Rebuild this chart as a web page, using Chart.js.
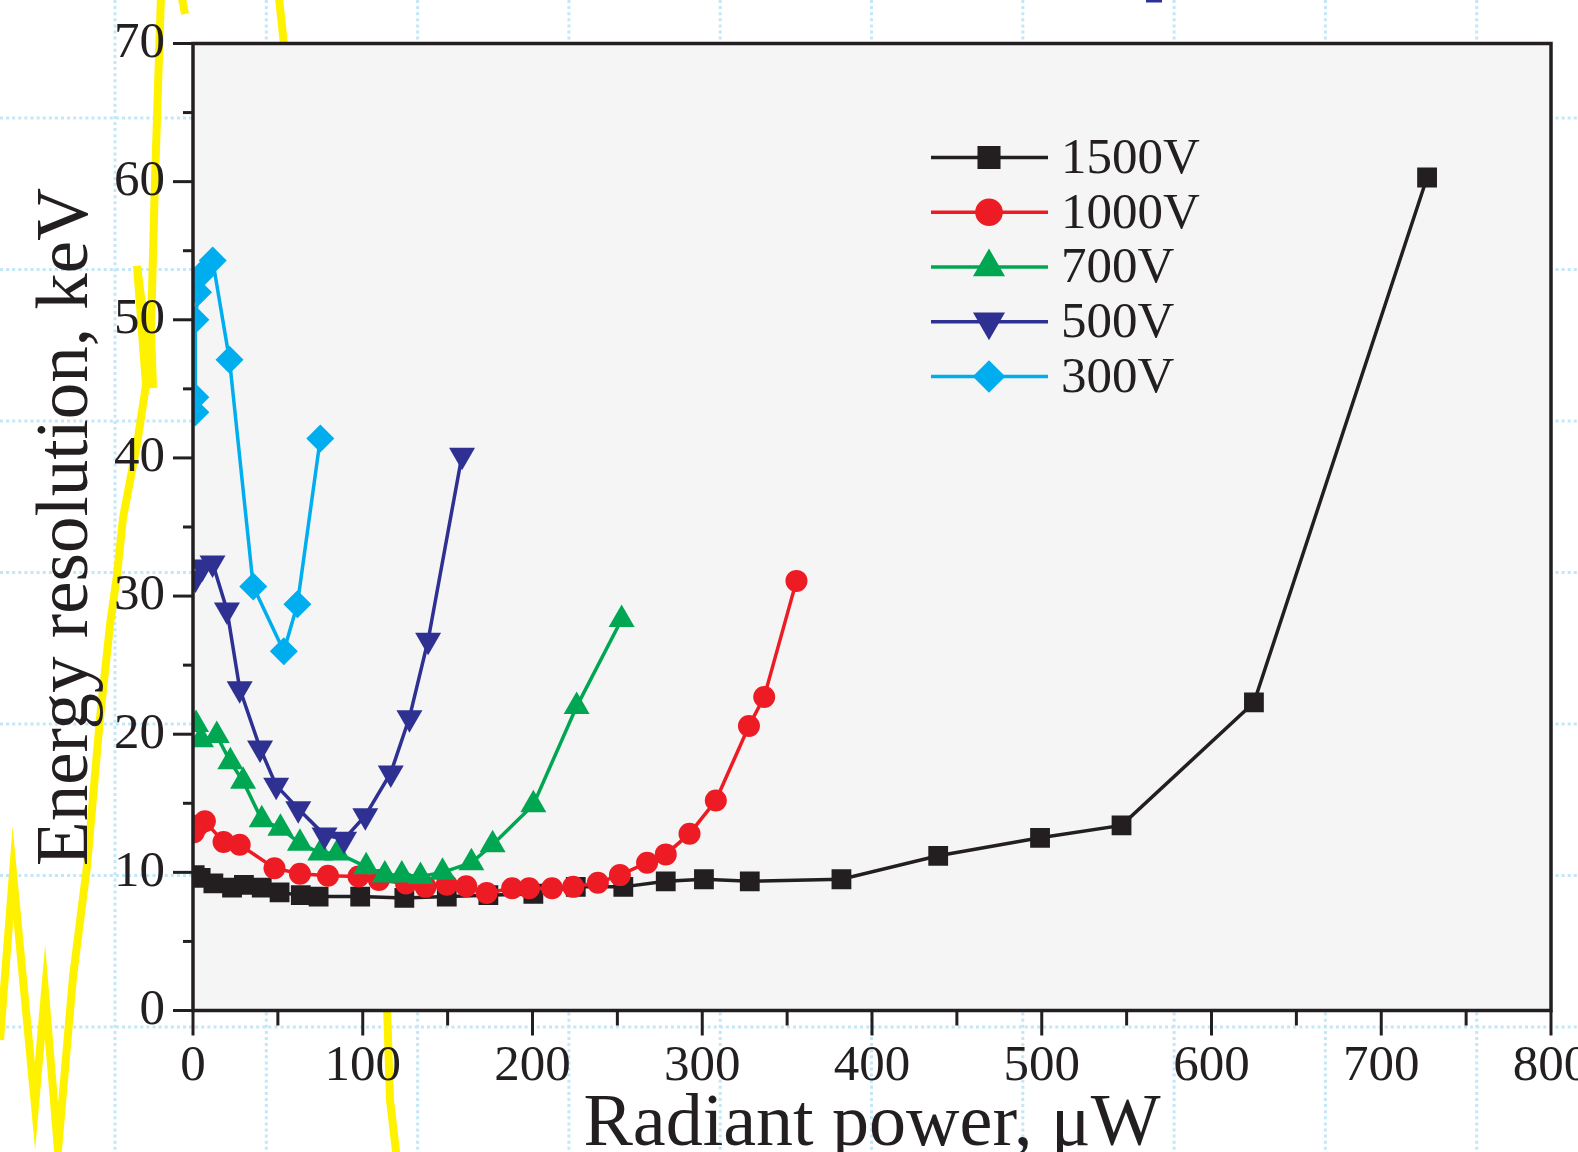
<!DOCTYPE html>
<html>
<head>
<meta charset="utf-8">
<script src="https://cdn.jsdelivr.net/npm/chart.js@4.4.0/dist/chart.umd.min.js"></script>
<style>
  html, body { margin: 0; padding: 0; background: #ffffff; }
  #wrap { width: 1578px; height: 1152px; position: relative; overflow: hidden; }
  canvas { display: block; }
</style>
</head>
<body>
<div id="wrap"><canvas id="c" width="1578" height="1152"></canvas></div>
<script>
// ---------------- data ----------------
const seriesNames = ['1500V', '1000V', '700V', '500V', '300V'];

const power1500 = [1, 4.5, 12, 23, 30, 40.5, 51, 63.5, 74, 98.5, 124.5, 149.5, 174, 200.5, 225.5, 253.5, 278.5, 301, 328, 382, 439, 499, 547, 625, 727];
const res1500   = [9.8, 9.6, 9.2, 8.9, 9.1, 8.9, 8.55, 8.35, 8.25, 8.25, 8.15, 8.25, 8.35, 8.45, 8.95, 8.95, 9.35, 9.5, 9.35, 9.5, 11.2, 12.5, 13.4, 22.3, 60.3];

const power1000 = [0.5, 3, 7, 18, 27.5, 48, 63, 79.5, 97.5, 109.5, 125.5, 137, 149.5, 161, 173, 188, 198, 211.5, 224, 238.5, 251.5, 267.5, 278.5, 292.5, 308, 327.5, 336.5, 355.5];
const res1000   = [12.9, 13.4, 13.7, 12.2, 12.0, 10.3, 9.9, 9.75, 9.7, 9.45, 9.2, 8.95, 9.1, 9.0, 8.5, 8.85, 8.85, 8.85, 8.95, 9.25, 9.8, 10.7, 11.3, 12.8, 15.2, 20.6, 22.7, 31.1];

const power700 = [1.8, 4.7, 14, 22, 29.5, 40.5, 51.5, 63, 75, 85, 102, 113, 123, 134, 147, 164, 176.5, 200.5, 226, 252.5];
const res700   = [20.7, 19.6, 19.9, 18.0, 16.6, 13.8, 13.2, 12.1, 11.4, 11.4, 10.4, 9.8, 9.8, 9.7, 10.0, 10.7, 12.0, 14.9, 22.0, 28.3];

const power500 = [1.5, 5.5, 11.5, 20, 27.5, 39.5, 49, 62, 77.5, 89, 101.5, 116.5, 127.5, 138.5, 158.5];
const res500   = [31.3, 32.1, 32.4, 29.0, 23.3, 19.0, 16.3, 14.6, 12.7, 12.4, 14.1, 17.2, 21.2, 26.8, 40.2];

const power300 = [1.4, 1.4, 1.4, 3, 5, 11.6, 21.5, 35.5, 53.5, 61.5, 75];
const res300   = [43.3, 44.4, 50.0, 52.0, 53.3, 54.3, 47.1, 30.7, 26.0, 29.4, 41.4];

const xTickLabels = [0, 100, 200, 300, 400, 500, 600, 700, 800];
const yTickLabels = [0, 10, 20, 30, 40, 50, 60, 70];

const xTitle = 'Radiant power, μW';
const yTitle = 'Energy resolution, keV';

// ---------------- styles ----------------
const FONT = '"Liberation Serif", "Times New Roman", serif';
const INK = '#231f20';
const colors = ['#231f20', '#ed1c24', '#00a651', '#2e3192', '#00aeef'];
const styles = [
  { pointStyle: 'rect', rotation: 0, radius: 14, legendRadius: 16.3 },
  { pointStyle: 'circle', rotation: 0, radius: 11, legendRadius: 13.8 },
  { pointStyle: 'triangle', rotation: 0, radius: 15, legendRadius: 18.5 },
  { pointStyle: 'triangle', rotation: 180, radius: 15, legendRadius: 18.5 },
  { pointStyle: 'rectRot', rotation: 0, radius: 14, legendRadius: 16.3 }
];
const xsList = [power1500, power1000, power700, power500, power300];
const ysList = [res1500, res1000, res700, res500, res300];

const datasets = seriesNames.map((name, i) => ({
  label: name,
  data: xsList[i].map((x, j) => ({ x: x, y: ysList[i][j] })),
  borderColor: colors[i],
  backgroundColor: colors[i],
  borderWidth: 3.5,
  tension: 0,
  pointStyle: styles[i].pointStyle,
  rotation: styles[i].rotation,
  pointRadius: styles[i].radius,
  pointHoverRadius: styles[i].radius,
  pointBorderWidth: 0,
  pointBackgroundColor: colors[i],
  order: 5 - i
}));

// ---------------- decorative background (outside the plot) ----------------
const backgroundPlugin = {
  id: 'background',
  beforeDraw(chart) {
    const ctx = chart.ctx;
    const W = chart.width, H = chart.height;
    ctx.save();
    ctx.fillStyle = '#ffffff';
    ctx.fillRect(0, 0, W, H);

    // light blue dotted grid of the surrounding page
    ctx.strokeStyle = '#c4e7f8';
    ctx.lineWidth = 3;
    ctx.setLineDash([3, 3.1]);
    for (let k = 0; k < 10; k++) {
      const x = 115 + 151.3 * k;
      ctx.beginPath(); ctx.moveTo(x, 0); ctx.lineTo(x, H); ctx.stroke();
    }
    for (let k = 0; k < 7; k++) {
      const y = 118 + 151.5 * k;
      ctx.beginPath(); ctx.moveTo(0, y); ctx.lineTo(W, y); ctx.stroke();
    }
    ctx.setLineDash([]);

    // yellow trace from a neighbouring figure
    ctx.strokeStyle = '#fff200';
    ctx.lineWidth = 8;
    ctx.lineJoin = 'miter';
    ctx.miterLimit = 12;
    const yellow = [
      [[161, -5], [155, 180], [151, 330], [153, 388], [137, 266], [146, 385], [137, 444], [123, 518], [117, 575],
       [110, 625], [100, 718], [87, 866], [73, 977], [58, 1150], [45, 992], [35, 1106], [13, 873], [0, 1040]],
      [[182, -2], [185, 14]],
      [[279, -2], [284, 45]],
      [[387, 1005], [390, 1100], [397, 1160]]
    ];
    yellow.forEach(path => {
      ctx.beginPath();
      path.forEach((p, i) => i ? ctx.lineTo(p[0], p[1]) : ctx.moveTo(p[0], p[1]));
      ctx.stroke();
    });

    // small cut piece of a navy symbol at the top
    ctx.fillStyle = '#2e3192';
    ctx.fillRect(1146, 0, 16, 2.5);

    // plot area background
    const a = chart.chartArea;
    ctx.fillStyle = '#f5f5f5';
    ctx.fillRect(a.left, a.top, a.right - a.left, a.bottom - a.top);
    ctx.restore();
  }
};

// ---------------- frame and tick marks ----------------
const framePlugin = {
  id: 'frame',
  afterDatasetsDraw(chart) {
    const ctx = chart.ctx;
    const a = chart.chartArea;
    const xs = chart.scales.x, ys = chart.scales.y;
    ctx.save();
    ctx.strokeStyle = INK;
    ctx.lineWidth = 3.5;
    ctx.lineCap = 'butt';
    ctx.strokeRect(a.left, a.top, a.right - a.left, a.bottom - a.top);

    ctx.lineWidth = 3;
    for (let i = 0; i < yTickLabels.length; i++) {
      const v = yTickLabels[i];
      const py = ys.getPixelForValue(v);
      ctx.beginPath(); ctx.moveTo(a.left - 20, py); ctx.lineTo(a.left, py); ctx.stroke();
      if (i < yTickLabels.length - 1) {
        const m = (v + yTickLabels[i + 1]) / 2;
        const pm = ys.getPixelForValue(m);
        ctx.beginPath(); ctx.moveTo(a.left - 10, pm); ctx.lineTo(a.left, pm); ctx.stroke();
      }
    }
    for (let i = 0; i < xTickLabels.length; i++) {
      const v = xTickLabels[i];
      const px = xs.getPixelForValue(v);
      ctx.beginPath(); ctx.moveTo(px, a.bottom); ctx.lineTo(px, a.bottom + 25); ctx.stroke();
      if (i < xTickLabels.length - 1) {
        const m = (v + xTickLabels[i + 1]) / 2;
        const pm = xs.getPixelForValue(m);
        ctx.beginPath(); ctx.moveTo(pm, a.bottom); ctx.lineTo(pm, a.bottom + 15); ctx.stroke();
      }
    }
    ctx.restore();
  }
};

// ---------------- legend inside the plot ----------------
function marker(ctx, style, r, x, y) {
  if (window.Chart && Chart.helpers && Chart.helpers.drawPoint) {
    Chart.helpers.drawPoint(ctx, { pointStyle: style.pointStyle, rotation: style.rotation, radius: r, borderWidth: 0 }, x, y);
    return;
  }
  ctx.beginPath();
  ctx.arc(x, y, r, 0, Math.PI * 2);
  ctx.fill();
}

const legendPlugin = {
  id: 'insideLegend',
  afterDraw(chart) {
    const ctx = chart.ctx;
    const a = chart.chartArea;
    const x0 = a.left + 738, len = 117, mx = x0 + 58, tx = a.left + 868;
    const y0 = a.top + 114, dy = 54.75;
    ctx.save();
    seriesNames.forEach((name, i) => {
      const y = y0 + dy * i;
      ctx.strokeStyle = colors[i];
      ctx.fillStyle = colors[i];
      ctx.lineWidth = 3.5;
      ctx.beginPath(); ctx.moveTo(x0, y); ctx.lineTo(x0 + len, y); ctx.stroke();
      marker(ctx, styles[i], styles[i].legendRadius, mx, y);
      ctx.fillStyle = INK;
      ctx.font = '51px ' + FONT;
      ctx.textAlign = 'left';
      ctx.textBaseline = 'middle';
      ctx.fillText(name, tx, y + 2);
    });
    ctx.restore();
  }
};

// ---------------- chart ----------------
new Chart(document.getElementById('c'), {
  type: 'line',
  data: { datasets: datasets },
  options: {
    responsive: false,
    devicePixelRatio: 1,
    animation: false,
    events: [],
    layout: { padding: { top: 43.5, right: 27, bottom: 0, left: 0 } },
    plugins: { legend: { display: false }, tooltip: { enabled: false } },
    scales: {
      x: {
        type: 'linear',
        min: 0, max: 800,
        afterBuildTicks: s => { s.ticks = xTickLabels.map(v => ({ value: v })); },
        grid: { display: false, drawTicks: false },
        border: { display: false },
        ticks: { color: INK, font: { family: FONT, size: 51 }, padding: 26, maxRotation: 0, autoSkip: false },
        title: { display: true, text: xTitle, color: INK, font: { family: FONT, size: 74, lineHeight: 0.9 }, padding: { top: 0, bottom: -7 } },
        afterFit: s => { s.height = 141.5; s.paddingLeft = 0; s.paddingRight = 0; }
      },
      y: {
        type: 'linear',
        min: 0, max: 70,
        afterBuildTicks: s => { s.ticks = yTickLabels.map(v => ({ value: v })); },
        grid: { display: false, drawTicks: false },
        border: { display: false },
        ticks: { color: INK, font: { family: FONT, size: 51 }, padding: 28 },
        title: { display: true, text: yTitle, color: INK, font: { family: FONT, size: 73, lineHeight: 0.9 }, padding: { top: 35, bottom: 0 } },
        afterFit: s => { s.width = 193; s.paddingTop = 0; s.paddingBottom = 0; }
      }
    }
  },
  plugins: [backgroundPlugin, framePlugin, legendPlugin]
});
</script>
</body>
</html>
